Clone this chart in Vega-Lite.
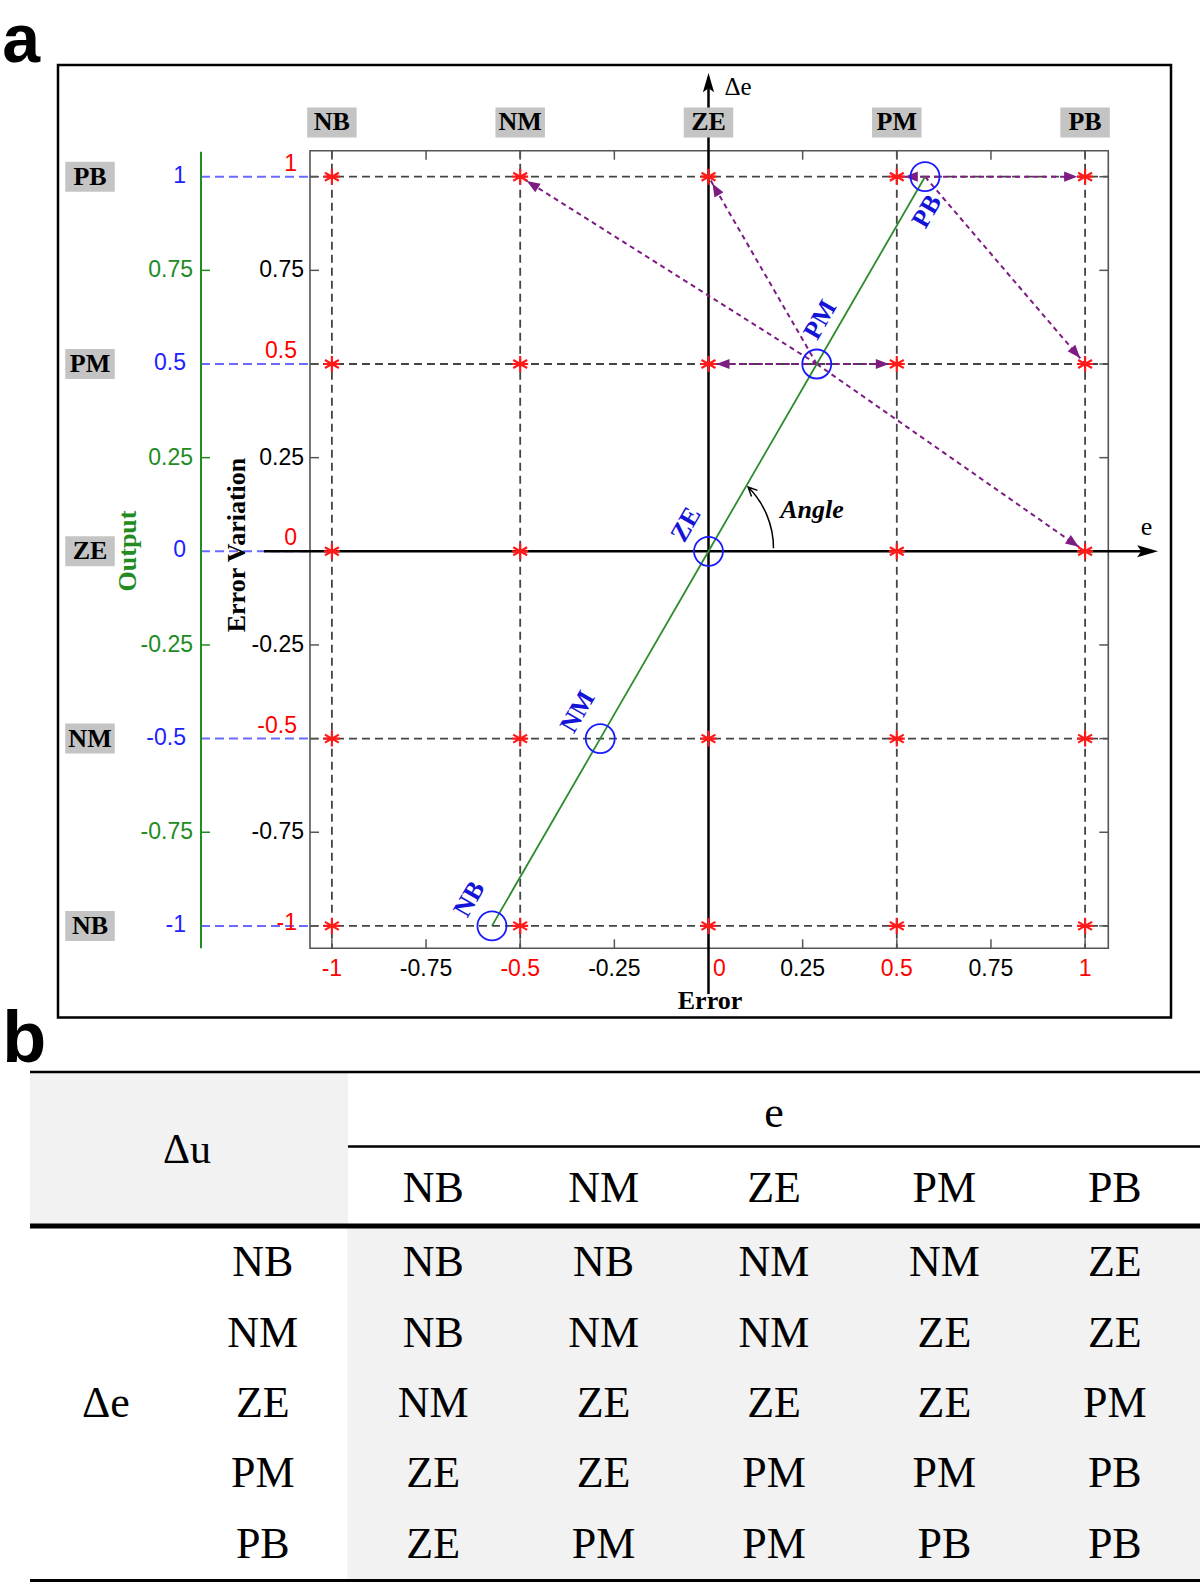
{
  "$schema": "https://vega.github.io/schema/vega-lite/v6.json",
  "width": 1200,
  "height": 1583,
  "padding": 0,
  "autosize": {"type": "none"},
  "background": "white",
  "config": {"view": {"stroke": null}, "text": {"font": "Liberation Serif"}, "point": {"opacity": 1}},
  "datasets": {
    "one": [{}],
    "levels": [{"name": "NB", "v": -1}, {"name": "NM", "v": -0.5}, {"name": "ZE", "v": 0}, {"name": "PM", "v": 0.5}, {"name": "PB", "v": 1}],
    "ticks": [{"v": -1}, {"v": -0.75}, {"v": -0.5}, {"v": -0.25}, {"v": 0}, {"v": 0.25}, {"v": 0.5}, {"v": 0.75}, {"v": 1}],
    "fuzzy": [
      {"name": "NB", "e": -0.575, "de": -1},
      {"name": "NM", "e": -0.2875, "de": -0.5},
      {"name": "ZE", "e": 0, "de": 0},
      {"name": "PM", "e": 0.2875, "de": 0.5},
      {"name": "PB", "e": 0.575, "de": 1}
    ],
    "arrows": [
      {"src": "PM", "e0": 0.2875, "de0": 0.5, "e1": -0.5, "de1": 1},
      {"src": "PM", "e0": 0.2875, "de0": 0.5, "e1": 0, "de1": 1},
      {"src": "PM", "e0": 0.2875, "de0": 0.5, "e1": 0, "de1": 0.5},
      {"src": "PM", "e0": 0.2875, "de0": 0.5, "e1": 0.5, "de1": 0.5},
      {"src": "PM", "e0": 0.2875, "de0": 0.5, "e1": 1, "de1": 0},
      {"src": "PB", "e0": 0.575, "de0": 1, "e1": 0.5, "de1": 1},
      {"src": "PB", "e0": 0.575, "de0": 1, "e1": 1, "de1": 1},
      {"src": "PB", "e0": 0.575, "de0": 1, "e1": 1, "de1": 0.5}
    ],
    "rules": [
      {"de": "NB", "e": "NB", "du": "NB", "ev": -1, "dev": -1},
      {"de": "NB", "e": "NM", "du": "NB", "ev": -0.5, "dev": -1},
      {"de": "NB", "e": "ZE", "du": "NM", "ev": 0, "dev": -1},
      {"de": "NB", "e": "PM", "du": "NM", "ev": 0.5, "dev": -1},
      {"de": "NB", "e": "PB", "du": "ZE", "ev": 1, "dev": -1},
      {"de": "NM", "e": "NB", "du": "NB", "ev": -1, "dev": -0.5},
      {"de": "NM", "e": "NM", "du": "NM", "ev": -0.5, "dev": -0.5},
      {"de": "NM", "e": "ZE", "du": "NM", "ev": 0, "dev": -0.5},
      {"de": "NM", "e": "PM", "du": "ZE", "ev": 0.5, "dev": -0.5},
      {"de": "NM", "e": "PB", "du": "ZE", "ev": 1, "dev": -0.5},
      {"de": "ZE", "e": "NB", "du": "NM", "ev": -1, "dev": 0},
      {"de": "ZE", "e": "NM", "du": "ZE", "ev": -0.5, "dev": 0},
      {"de": "ZE", "e": "ZE", "du": "ZE", "ev": 0, "dev": 0},
      {"de": "ZE", "e": "PM", "du": "ZE", "ev": 0.5, "dev": 0},
      {"de": "ZE", "e": "PB", "du": "PM", "ev": 1, "dev": 0},
      {"de": "PM", "e": "NB", "du": "ZE", "ev": -1, "dev": 0.5},
      {"de": "PM", "e": "NM", "du": "ZE", "ev": -0.5, "dev": 0.5},
      {"de": "PM", "e": "ZE", "du": "PM", "ev": 0, "dev": 0.5},
      {"de": "PM", "e": "PM", "du": "PM", "ev": 0.5, "dev": 0.5},
      {"de": "PM", "e": "PB", "du": "PB", "ev": 1, "dev": 0.5},
      {"de": "PB", "e": "NB", "du": "ZE", "ev": -1, "dev": 1},
      {"de": "PB", "e": "NM", "du": "PM", "ev": -0.5, "dev": 1},
      {"de": "PB", "e": "ZE", "du": "PM", "ev": 0, "dev": 1},
      {"de": "PB", "e": "PM", "du": "PB", "ev": 0.5, "dev": 1},
      {"de": "PB", "e": "PB", "du": "PB", "ev": 1, "dev": 1}
    ]
  },
  "resolve": {"scale": {"x": "independent", "y": "independent"}},
  "layer": [
    {
      "layer": [
        {"data": {"name": "rules"}, "mark": {"type": "rect", "color": "#f2f2f2", "stroke": "#f2f2f2", "strokeWidth": 1.2},
          "encoding": {
            "x": {"field": "e", "type": "nominal", "axis": null, "scale": {"type": "band", "domain": ["rowlabel", "NB", "NM", "ZE", "PM", "PB"], "range": [177.6, 1200], "paddingInner": 0, "paddingOuter": 0}},
            "y": {"field": "de", "type": "nominal", "axis": null, "scale": {"type": "band", "domain": ["e", "hdr", "NB", "NM", "ZE", "PM", "PB"], "range": [1087.2, 1580], "paddingInner": 0, "paddingOuter": 0}}
          }},
        {"data": {"name": "rules"}, "mark": {"type": "text", "fontSize": 44, "color": "black", "baseline": "middle"},
          "encoding": {
            "x": {"field": "e", "type": "nominal", "axis": null, "scale": {"type": "band", "domain": ["rowlabel", "NB", "NM", "ZE", "PM", "PB"], "range": [177.6, 1200], "paddingInner": 0, "paddingOuter": 0}},
            "y": {"field": "de", "type": "nominal", "axis": null, "scale": {"type": "band", "domain": ["e", "hdr", "NB", "NM", "ZE", "PM", "PB"], "range": [1087.2, 1580], "paddingInner": 0, "paddingOuter": 0}},
            "text": {"field": "du", "type": "nominal"}
          }},
        {"data": {"name": "levels"}, "mark": {"type": "text", "fontSize": 44, "color": "black", "baseline": "middle", "dy": -4},
          "encoding": {
            "x": {"field": "name", "type": "nominal", "axis": null, "scale": {"type": "band", "domain": ["rowlabel", "NB", "NM", "ZE", "PM", "PB"], "range": [177.6, 1200], "paddingInner": 0, "paddingOuter": 0}},
            "y": {"datum": "hdr", "type": "nominal", "axis": null, "scale": {"type": "band", "domain": ["e", "hdr", "NB", "NM", "ZE", "PM", "PB"], "range": [1087.2, 1580], "paddingInner": 0, "paddingOuter": 0}},
            "text": {"field": "name", "type": "nominal"}
          }},
        {"data": {"name": "levels"}, "mark": {"type": "text", "fontSize": 44, "color": "black", "baseline": "middle"},
          "encoding": {
            "x": {"datum": "rowlabel", "type": "nominal", "axis": null, "scale": {"type": "band", "domain": ["rowlabel", "NB", "NM", "ZE", "PM", "PB"], "range": [177.6, 1200], "paddingInner": 0, "paddingOuter": 0}},
            "y": {"field": "name", "type": "nominal", "axis": null, "scale": {"type": "band", "domain": ["e", "hdr", "NB", "NM", "ZE", "PM", "PB"], "range": [1087.2, 1580], "paddingInner": 0, "paddingOuter": 0}},
            "text": {"field": "name", "type": "nominal"}
          }},
        {"data": {"name": "one"}, "mark": {"type": "text", "fontSize": 44, "color": "black", "baseline": "middle", "dy": -8, "text": "e"},
          "encoding": {
            "x": {"datum": "ZE", "type": "nominal", "axis": null, "scale": {"type": "band", "domain": ["rowlabel", "NB", "NM", "ZE", "PM", "PB"], "range": [177.6, 1200], "paddingInner": 0, "paddingOuter": 0}},
            "y": {"datum": "e", "type": "nominal", "axis": null, "scale": {"type": "band", "domain": ["e", "hdr", "NB", "NM", "ZE", "PM", "PB"], "range": [1087.2, 1580], "paddingInner": 0, "paddingOuter": 0}}
          }},
        {"data": {"name": "one"}, "mark": {"type": "text", "fontSize": 44, "color": "black", "baseline": "middle", "dx": -157, "text": "Δe"},
          "encoding": {
            "x": {"datum": "rowlabel", "type": "nominal", "axis": null, "scale": {"type": "band", "domain": ["rowlabel", "NB", "NM", "ZE", "PM", "PB"], "range": [177.6, 1200], "paddingInner": 0, "paddingOuter": 0}},
            "y": {"datum": "ZE", "type": "nominal", "axis": null, "scale": {"type": "band", "domain": ["e", "hdr", "NB", "NM", "ZE", "PM", "PB"], "range": [1087.2, 1580], "paddingInner": 0, "paddingOuter": 0}}
          }}
      ]
    },
    {
      "layer": [
        {"data": {"name": "one"}, "mark": {"type": "rect", "color": "#f2f2f2"},
          "encoding": {
            "x": {"datum": -1.8016, "type": "quantitative", "axis": null, "scale": {"domain": [-1.8813, 1.3051], "nice": false, "zero": false}},
            "x2": {"datum": -0.9573},
            "y": {"datum": -1.3927, "type": "quantitative", "axis": null, "scale": {"domain": [-2.7541, 1.4717], "nice": false, "zero": false}},
            "y2": {"datum": -1.7958}
          }},
        {"data": {"name": "one"}, "mark": {"type": "rule", "color": "black", "strokeWidth": 2.5},
          "encoding": {
            "x": {"datum": -1.8016, "type": "quantitative", "axis": null, "scale": {"domain": [-1.8813, 1.3051], "nice": false, "zero": false}},
            "x2": {"datum": 1.3051},
            "y": {"datum": -1.39, "type": "quantitative", "axis": null, "scale": {"domain": [-2.7541, 1.4717], "nice": false, "zero": false}}
          }},
        {"data": {"name": "one"}, "mark": {"type": "rule", "color": "black", "strokeWidth": 2.5},
          "encoding": {
            "x": {"datum": -0.9573, "type": "quantitative", "axis": null, "scale": {"domain": [-1.8813, 1.3051], "nice": false, "zero": false}},
            "x2": {"datum": 1.3051},
            "y": {"datum": -1.5889, "type": "quantitative", "axis": null, "scale": {"domain": [-2.7541, 1.4717], "nice": false, "zero": false}}
          }},
        {"data": {"name": "one"}, "mark": {"type": "rule", "color": "black", "strokeWidth": 5},
          "encoding": {
            "x": {"datum": -1.8016, "type": "quantitative", "axis": null, "scale": {"domain": [-1.8813, 1.3051], "nice": false, "zero": false}},
            "x2": {"datum": 1.3051},
            "y": {"datum": -1.8011, "type": "quantitative", "axis": null, "scale": {"domain": [-2.7541, 1.4717], "nice": false, "zero": false}}
          }},
        {"data": {"name": "one"}, "mark": {"type": "rule", "color": "black", "strokeWidth": 3},
          "encoding": {
            "x": {"datum": -1.8016, "type": "quantitative", "axis": null, "scale": {"domain": [-1.8813, 1.3051], "nice": false, "zero": false}},
            "x2": {"datum": 1.3051},
            "y": {"datum": -2.7475, "type": "quantitative", "axis": null, "scale": {"domain": [-2.7541, 1.4717], "nice": false, "zero": false}}
          }},
        {"data": {"name": "one"}, "mark": {"type": "text", "fontSize": 42, "color": "black", "baseline": "middle", "text": "Δu"},
          "encoding": {
            "x": {"datum": -1.3848, "type": "quantitative", "axis": null, "scale": {"domain": [-1.8813, 1.3051], "nice": false, "zero": false}},
            "y": {"datum": -1.5983, "type": "quantitative", "axis": null, "scale": {"domain": [-2.7541, 1.4717], "nice": false, "zero": false}}
          }},
        {"data": {"name": "one"}, "mark": {"type": "text", "font": "Liberation Sans", "fontWeight": "bold", "fontSize": 68, "color": "black", "align": "left", "baseline": "alphabetic", "text": "a"},
          "encoding": {
            "x": {"datum": -1.875, "type": "quantitative", "axis": null, "scale": {"domain": [-1.8813, 1.3051], "nice": false, "zero": false}},
            "y": {"datum": 1.3062, "type": "quantitative", "axis": null, "scale": {"domain": [-2.7541, 1.4717], "nice": false, "zero": false}}
          }},
        {"data": {"name": "one"}, "mark": {"type": "text", "font": "Liberation Sans", "fontWeight": "bold", "fontSize": 72, "color": "black", "align": "left", "baseline": "alphabetic", "text": "b"},
          "encoding": {
            "x": {"datum": -1.875, "type": "quantitative", "axis": null, "scale": {"domain": [-1.8813, 1.3051], "nice": false, "zero": false}},
            "y": {"datum": -1.3633, "type": "quantitative", "axis": null, "scale": {"domain": [-2.7541, 1.4717], "nice": false, "zero": false}}
          }},
        {"data": {"name": "one"}, "mark": {"type": "rect", "filled": false, "color": "black", "strokeWidth": 2.5},
          "encoding": {
            "x": {"datum": -1.7273, "type": "quantitative", "axis": null, "scale": {"domain": [-1.8813, 1.3051], "nice": false, "zero": false}},
            "x2": {"datum": 1.2281},
            "y": {"datum": 1.2982, "type": "quantitative", "axis": null, "scale": {"domain": [-2.7541, 1.4717], "nice": false, "zero": false}},
            "y2": {"datum": -1.2445}
          }},
        {"data": {"name": "one"}, "mark": {"type": "rect", "filled": false, "color": "#555555", "strokeWidth": 1.6},
          "encoding": {
            "x": {"datum": -1.0582, "type": "quantitative", "axis": null, "scale": {"domain": [-1.8813, 1.3051], "nice": false, "zero": false}},
            "x2": {"datum": 1.0616},
            "y": {"datum": 1.0694, "type": "quantitative", "axis": null, "scale": {"domain": [-2.7541, 1.4717], "nice": false, "zero": false}},
            "y2": {"datum": -1.0598}
          }},
        {"data": {"name": "levels"}, "mark": {"type": "rule", "color": "#6a6aff", "strokeWidth": 2, "strokeDash": [9, 5]},
          "encoding": {
            "x": {"datum": -1.3476, "type": "quantitative", "axis": null, "scale": {"domain": [-1.8813, 1.3051], "nice": false, "zero": false}},
            "x2": {"datum": -1.0582},
            "y": {"field": "v", "type": "quantitative", "axis": null, "scale": {"domain": [-2.7541, 1.4717], "nice": false, "zero": false}}
          }},
        {"data": {"name": "levels"}, "transform": [{"filter": "datum.v !== 0"}], "mark": {"type": "rule", "color": "#444444", "strokeWidth": 1.8, "strokeDash": [8, 5]},
          "encoding": {
            "x": {"field": "v", "type": "quantitative", "axis": null, "scale": {"domain": [-1.8813, 1.3051], "nice": false, "zero": false}},
            "y": {"datum": 1.0694, "type": "quantitative", "axis": null, "scale": {"domain": [-2.7541, 1.4717], "nice": false, "zero": false}},
            "y2": {"datum": -1.0598}
          }},
        {"data": {"name": "levels"}, "transform": [{"filter": "datum.v !== 0"}], "mark": {"type": "rule", "color": "#444444", "strokeWidth": 1.8, "strokeDash": [8, 5]},
          "encoding": {
            "x": {"datum": -1.0582, "type": "quantitative", "axis": null, "scale": {"domain": [-1.8813, 1.3051], "nice": false, "zero": false}},
            "x2": {"datum": 1.0616},
            "y": {"field": "v", "type": "quantitative", "axis": null, "scale": {"domain": [-2.7541, 1.4717], "nice": false, "zero": false}}
          }},
        {"data": {"name": "ticks"}, "mark": {"type": "rule", "color": "#555555", "strokeWidth": 1.5},
          "encoding": {
            "x": {"field": "v", "type": "quantitative", "axis": null, "scale": {"domain": [-1.8813, 1.3051], "nice": false, "zero": false}},
            "y": {"datum": -1.0598, "type": "quantitative", "axis": null, "scale": {"domain": [-2.7541, 1.4717], "nice": false, "zero": false}},
            "y2": {"datum": -1.0358}
          }},
        {"data": {"name": "ticks"}, "mark": {"type": "rule", "color": "#555555", "strokeWidth": 1.5},
          "encoding": {
            "x": {"field": "v", "type": "quantitative", "axis": null, "scale": {"domain": [-1.8813, 1.3051], "nice": false, "zero": false}},
            "y": {"datum": 1.0694, "type": "quantitative", "axis": null, "scale": {"domain": [-2.7541, 1.4717], "nice": false, "zero": false}},
            "y2": {"datum": 1.0454}
          }},
        {"data": {"name": "ticks"}, "mark": {"type": "rule", "color": "#555555", "strokeWidth": 1.5},
          "encoding": {
            "x": {"datum": -1.0582, "type": "quantitative", "axis": null, "scale": {"domain": [-1.8813, 1.3051], "nice": false, "zero": false}},
            "x2": {"datum": -1.0343},
            "y": {"field": "v", "type": "quantitative", "axis": null, "scale": {"domain": [-2.7541, 1.4717], "nice": false, "zero": false}}
          }},
        {"data": {"name": "ticks"}, "mark": {"type": "rule", "color": "#555555", "strokeWidth": 1.5},
          "encoding": {
            "x": {"datum": 1.0616, "type": "quantitative", "axis": null, "scale": {"domain": [-1.8813, 1.3051], "nice": false, "zero": false}},
            "x2": {"datum": 1.0377},
            "y": {"field": "v", "type": "quantitative", "axis": null, "scale": {"domain": [-2.7541, 1.4717], "nice": false, "zero": false}}
          }},
        {"data": {"name": "one"}, "mark": {"type": "rule", "color": "#228b22", "strokeWidth": 2},
          "encoding": {
            "x": {"datum": -1.3476, "type": "quantitative", "axis": null, "scale": {"domain": [-1.8813, 1.3051], "nice": false, "zero": false}},
            "y": {"datum": 1.0667, "type": "quantitative", "axis": null, "scale": {"domain": [-2.7541, 1.4717], "nice": false, "zero": false}},
            "y2": {"datum": -1.0598}
          }},
        {"data": {"name": "ticks"}, "transform": [{"filter": "datum.v % 0.5 !== 0"}], "mark": {"type": "rule", "color": "#228b22", "strokeWidth": 1.5},
          "encoding": {
            "x": {"datum": -1.3476, "type": "quantitative", "axis": null, "scale": {"domain": [-1.8813, 1.3051], "nice": false, "zero": false}},
            "x2": {"datum": -1.3237},
            "y": {"field": "v", "type": "quantitative", "axis": null, "scale": {"domain": [-2.7541, 1.4717], "nice": false, "zero": false}}
          }},
        {"data": {"name": "one"}, "mark": {"type": "rule", "color": "black", "strokeWidth": 2.5},
          "encoding": {
            "x": {"datum": -1.1804, "type": "quantitative", "axis": null, "scale": {"domain": [-1.8813, 1.3051], "nice": false, "zero": false}},
            "x2": {"datum": 1.18},
            "y": {"datum": 0, "type": "quantitative", "axis": null, "scale": {"domain": [-2.7541, 1.4717], "nice": false, "zero": false}}
          }},
        {"data": {"name": "one"}, "mark": {"type": "rule", "color": "black", "strokeWidth": 2.5},
          "encoding": {
            "x": {"datum": 0, "type": "quantitative", "axis": null, "scale": {"domain": [-1.8813, 1.3051], "nice": false, "zero": false}},
            "y": {"datum": 1.265, "type": "quantitative", "axis": null, "scale": {"domain": [-2.7541, 1.4717], "nice": false, "zero": false}},
            "y2": {"datum": -1.1818}
          }},
        {"data": {"name": "one"}, "mark": {"type": "point", "shape": "M0,0L-0.7,2.4L0,1.9L0.7,2.4Z", "size": 256, "filled": true, "color": "black", "strokeWidth": 0},
          "encoding": {
            "x": {"datum": 0, "type": "quantitative", "axis": null, "scale": {"domain": [-1.8813, 1.3051], "nice": false, "zero": false}},
            "y": {"datum": 1.2768, "type": "quantitative", "axis": null, "scale": {"domain": [-2.7541, 1.4717], "nice": false, "zero": false}}
          }},
        {"data": {"name": "one"}, "mark": {"type": "point", "shape": "M0,0L-2.6,-0.75L-2.1,0L-2.6,0.75Z", "size": 256, "filled": true, "color": "black", "strokeWidth": 0},
          "encoding": {
            "x": {"datum": 1.1936, "type": "quantitative", "axis": null, "scale": {"domain": [-1.8813, 1.3051], "nice": false, "zero": false}},
            "y": {"datum": 0, "type": "quantitative", "axis": null, "scale": {"domain": [-2.7541, 1.4717], "nice": false, "zero": false}}
          }},
        {"data": {"name": "arrows"}, "mark": {"type": "rule", "color": "#7d1d82", "strokeWidth": 2, "strokeDash": [5, 4]},
          "encoding": {
            "x": {"field": "e0", "type": "quantitative", "axis": null, "scale": {"domain": [-1.8813, 1.3051], "nice": false, "zero": false}},
            "x2": {"field": "e1"},
            "y": {"field": "de0", "type": "quantitative", "axis": null, "scale": {"domain": [-2.7541, 1.4717], "nice": false, "zero": false}},
            "y2": {"field": "de1"}
          }},
        {"data": {"name": "arrows"}, "transform": [{"calculate": "atan2(datum.de0 - datum.de1, datum.e1 - datum.e0) * 180 / PI", "as": "ang"}],
          "mark": {"type": "point", "shape": "M-1.3,0L-3.5,-0.85L-3.5,0.85Z", "size": 144, "filled": true, "color": "#7d1d82", "strokeWidth": 0},
          "encoding": {
            "x": {"field": "e1", "type": "quantitative", "axis": null, "scale": {"domain": [-1.8813, 1.3051], "nice": false, "zero": false}},
            "y": {"field": "de1", "type": "quantitative", "axis": null, "scale": {"domain": [-2.7541, 1.4717], "nice": false, "zero": false}},
            "angle": {"field": "ang", "type": "quantitative", "scale": null}
          }},
        {"data": {"name": "fuzzy"}, "mark": {"type": "line", "color": "#2e8b2e", "strokeWidth": 1.8},
          "encoding": {
            "x": {"field": "e", "type": "quantitative", "axis": null, "scale": {"domain": [-1.8813, 1.3051], "nice": false, "zero": false}},
            "y": {"field": "de", "type": "quantitative", "axis": null, "scale": {"domain": [-2.7541, 1.4717], "nice": false, "zero": false}},
            "order": {"field": "de", "type": "quantitative"}
          }},
        {"data": {"name": "rules"}, "transform": [{"filter": "!(datum.ev === 0 && datum.dev === 0)"}],
          "mark": {"type": "point", "shape": "M0,-1L0,1M-0.87,-0.5L0.87,0.5M-0.87,0.5L0.87,-0.5M-1,0L1,0", "size": 256, "filled": false, "color": "#ff1a1a", "strokeWidth": 2.2},
          "encoding": {
            "x": {"field": "ev", "type": "quantitative", "axis": null, "scale": {"domain": [-1.8813, 1.3051], "nice": false, "zero": false}},
            "y": {"field": "dev", "type": "quantitative", "axis": null, "scale": {"domain": [-2.7541, 1.4717], "nice": false, "zero": false}}
          }},
        {"data": {"name": "fuzzy"}, "mark": {"type": "point", "shape": "circle", "size": 841, "filled": false, "color": "#1a1aff", "strokeWidth": 1.8},
          "encoding": {
            "x": {"field": "e", "type": "quantitative", "axis": null, "scale": {"domain": [-1.8813, 1.3051], "nice": false, "zero": false}},
            "y": {"field": "de", "type": "quantitative", "axis": null, "scale": {"domain": [-2.7541, 1.4717], "nice": false, "zero": false}}
          }},
        {"data": {"name": "fuzzy"}, "transform": [{"filter": "indexof(['NB','NM','ZE'], datum.name) >= 0"}],
          "mark": {"type": "text", "fontSize": 26, "fontWeight": "bold", "color": "#1414d8", "angle": 300, "dx": 12, "dy": -33, "baseline": "middle"},
          "encoding": {
            "x": {"field": "e", "type": "quantitative", "axis": null, "scale": {"domain": [-1.8813, 1.3051], "nice": false, "zero": false}},
            "y": {"field": "de", "type": "quantitative", "axis": null, "scale": {"domain": [-2.7541, 1.4717], "nice": false, "zero": false}},
            "text": {"field": "name", "type": "nominal"}
          }},
        {"data": {"name": "fuzzy"}, "transform": [{"filter": "datum.name === 'PM'"}],
          "mark": {"type": "text", "fontSize": 26, "fontWeight": "bold", "color": "#1414d8", "angle": 300, "dx": 40, "dy": -19, "baseline": "middle"},
          "encoding": {
            "x": {"field": "e", "type": "quantitative", "axis": null, "scale": {"domain": [-1.8813, 1.3051], "nice": false, "zero": false}},
            "y": {"field": "de", "type": "quantitative", "axis": null, "scale": {"domain": [-2.7541, 1.4717], "nice": false, "zero": false}},
            "text": {"field": "name", "type": "nominal"}
          }},
        {"data": {"name": "fuzzy"}, "transform": [{"filter": "datum.name === 'PB'"}],
          "mark": {"type": "text", "fontSize": 26, "fontWeight": "bold", "color": "#1414d8", "angle": 300, "dx": -29, "dy": 19, "baseline": "middle"},
          "encoding": {
            "x": {"field": "e", "type": "quantitative", "axis": null, "scale": {"domain": [-1.8813, 1.3051], "nice": false, "zero": false}},
            "y": {"field": "de", "type": "quantitative", "axis": null, "scale": {"domain": [-2.7541, 1.4717], "nice": false, "zero": false}},
            "text": {"field": "name", "type": "nominal"}
          }},
        {"data": {"name": "one"}, "mark": {"type": "point", "shape": "M6.5,-0.3A8.67,8.67 0 0 0 3.96,-6.43M4.3,-5.49L3.96,-6.43L4.9,-6.09", "size": 400, "filled": false, "color": "black", "strokeWidth": 1.5},
          "encoding": {
            "x": {"datum": 0, "type": "quantitative", "axis": null, "scale": {"domain": [-1.8813, 1.3051], "nice": false, "zero": false}},
            "y": {"datum": 0, "type": "quantitative", "axis": null, "scale": {"domain": [-2.7541, 1.4717], "nice": false, "zero": false}}
          }},
        {"data": {"name": "one"}, "mark": {"type": "text", "fontSize": 26, "fontWeight": "bold", "fontStyle": "italic", "color": "black", "baseline": "middle", "text": "Angle"},
          "encoding": {
            "x": {"datum": 0.2748, "type": "quantitative", "axis": null, "scale": {"domain": [-1.8813, 1.3051], "nice": false, "zero": false}},
            "y": {"datum": 0.1103, "type": "quantitative", "axis": null, "scale": {"domain": [-2.7541, 1.4717], "nice": false, "zero": false}}
          }},
        {"data": {"name": "levels"}, "mark": {"type": "point", "shape": "M-1.65,-1L1.65,-1L1.65,1L-1.65,1Z", "size": 900, "filled": true, "color": "#c4c4c4", "strokeWidth": 0},
          "encoding": {
            "x": {"field": "v", "type": "quantitative", "axis": null, "scale": {"domain": [-1.8813, 1.3051], "nice": false, "zero": false}},
            "y": {"datum": 1.1447, "type": "quantitative", "axis": null, "scale": {"domain": [-2.7541, 1.4717], "nice": false, "zero": false}}
          }},
        {"data": {"name": "levels"}, "mark": {"type": "text", "fontSize": 26, "fontWeight": "bold", "color": "black", "baseline": "middle"},
          "encoding": {
            "x": {"field": "v", "type": "quantitative", "axis": null, "scale": {"domain": [-1.8813, 1.3051], "nice": false, "zero": false}},
            "y": {"datum": 1.1447, "type": "quantitative", "axis": null, "scale": {"domain": [-2.7541, 1.4717], "nice": false, "zero": false}},
            "text": {"field": "name", "type": "nominal"}
          }},
        {"data": {"name": "levels"}, "mark": {"type": "point", "shape": "M-1.65,-1L1.65,-1L1.65,1L-1.65,1Z", "size": 900, "filled": true, "color": "#c4c4c4", "strokeWidth": 0},
          "encoding": {
            "x": {"datum": -1.6423, "type": "quantitative", "axis": null, "scale": {"domain": [-1.8813, 1.3051], "nice": false, "zero": false}},
            "y": {"field": "v", "type": "quantitative", "axis": null, "scale": {"domain": [-2.7541, 1.4717], "nice": false, "zero": false}}
          }},
        {"data": {"name": "levels"}, "mark": {"type": "text", "fontSize": 26, "fontWeight": "bold", "color": "black", "baseline": "middle"},
          "encoding": {
            "x": {"datum": -1.6423, "type": "quantitative", "axis": null, "scale": {"domain": [-1.8813, 1.3051], "nice": false, "zero": false}},
            "y": {"field": "v", "type": "quantitative", "axis": null, "scale": {"domain": [-2.7541, 1.4717], "nice": false, "zero": false}},
            "text": {"field": "name", "type": "nominal"}
          }},
        {"data": {"name": "ticks"}, "transform": [{"filter": "datum.v % 0.5 !== 0"}],
          "mark": {"type": "text", "font": "Liberation Sans", "fontSize": 23, "color": "black", "align": "right", "baseline": "middle"},
          "encoding": {
            "x": {"datum": -1.0741, "type": "quantitative", "axis": null, "scale": {"domain": [-1.8813, 1.3051], "nice": false, "zero": false}},
            "y": {"field": "v", "type": "quantitative", "axis": null, "scale": {"domain": [-2.7541, 1.4717], "nice": false, "zero": false}},
            "text": {"field": "v", "type": "nominal"}
          }},
        {"data": {"name": "ticks"}, "transform": [{"filter": "datum.v % 0.5 === 0 && datum.v !== -1"}],
          "mark": {"type": "text", "font": "Liberation Sans", "fontSize": 23, "color": "#ff0000", "align": "right", "baseline": "middle", "dy": -13},
          "encoding": {
            "x": {"datum": -1.0927, "type": "quantitative", "axis": null, "scale": {"domain": [-1.8813, 1.3051], "nice": false, "zero": false}},
            "y": {"field": "v", "type": "quantitative", "axis": null, "scale": {"domain": [-2.7541, 1.4717], "nice": false, "zero": false}},
            "text": {"field": "v", "type": "nominal"}
          }},
        {"data": {"name": "ticks"}, "transform": [{"filter": "datum.v === -1"}],
          "mark": {"type": "text", "font": "Liberation Sans", "fontSize": 23, "color": "#ff0000", "align": "right", "baseline": "middle", "dy": -3},
          "encoding": {
            "x": {"datum": -1.0927, "type": "quantitative", "axis": null, "scale": {"domain": [-1.8813, 1.3051], "nice": false, "zero": false}},
            "y": {"field": "v", "type": "quantitative", "axis": null, "scale": {"domain": [-2.7541, 1.4717], "nice": false, "zero": false}},
            "text": {"field": "v", "type": "nominal"}
          }},
        {"data": {"name": "ticks"}, "transform": [{"filter": "datum.v % 0.5 !== 0"}],
          "mark": {"type": "text", "font": "Liberation Sans", "fontSize": 23, "color": "#228b22", "align": "right", "baseline": "middle"},
          "encoding": {
            "x": {"datum": -1.3688, "type": "quantitative", "axis": null, "scale": {"domain": [-1.8813, 1.3051], "nice": false, "zero": false}},
            "y": {"field": "v", "type": "quantitative", "axis": null, "scale": {"domain": [-2.7541, 1.4717], "nice": false, "zero": false}},
            "text": {"field": "v", "type": "nominal"}
          }},
        {"data": {"name": "ticks"}, "transform": [{"filter": "datum.v % 0.5 === 0"}],
          "mark": {"type": "text", "font": "Liberation Sans", "fontSize": 23, "color": "#2222ff", "align": "right", "baseline": "middle", "dy": -1},
          "encoding": {
            "x": {"datum": -1.3874, "type": "quantitative", "axis": null, "scale": {"domain": [-1.8813, 1.3051], "nice": false, "zero": false}},
            "y": {"field": "v", "type": "quantitative", "axis": null, "scale": {"domain": [-2.7541, 1.4717], "nice": false, "zero": false}},
            "text": {"field": "v", "type": "nominal"}
          }},
        {"data": {"name": "ticks"}, "transform": [{"filter": "datum.v !== 0"}],
          "mark": {"type": "text", "font": "Liberation Sans", "fontSize": 23, "baseline": "middle"},
          "encoding": {
            "x": {"field": "v", "type": "quantitative", "axis": null, "scale": {"domain": [-1.8813, 1.3051], "nice": false, "zero": false}},
            "y": {"datum": -1.1151, "type": "quantitative", "axis": null, "scale": {"domain": [-2.7541, 1.4717], "nice": false, "zero": false}},
            "text": {"field": "v", "type": "nominal"},
            "color": {"condition": {"test": "datum.v % 0.5 === 0", "value": "#ff0000"}, "value": "black"}
          }},
        {"data": {"name": "ticks"}, "transform": [{"filter": "datum.v === 0"}],
          "mark": {"type": "text", "font": "Liberation Sans", "fontSize": 23, "baseline": "middle", "color": "#ff0000", "dx": 11},
          "encoding": {
            "x": {"field": "v", "type": "quantitative", "axis": null, "scale": {"domain": [-1.8813, 1.3051], "nice": false, "zero": false}},
            "y": {"datum": -1.1151, "type": "quantitative", "axis": null, "scale": {"domain": [-2.7541, 1.4717], "nice": false, "zero": false}},
            "text": {"field": "v", "type": "nominal"}
          }},
        {"data": {"name": "one"}, "mark": {"type": "text", "fontSize": 26, "fontWeight": "bold", "color": "black", "baseline": "middle", "text": "Error"},
          "encoding": {
            "x": {"datum": 0.004, "type": "quantitative", "axis": null, "scale": {"domain": [-1.8813, 1.3051], "nice": false, "zero": false}},
            "y": {"datum": -1.2005, "type": "quantitative", "axis": null, "scale": {"domain": [-2.7541, 1.4717], "nice": false, "zero": false}}
          }},
        {"data": {"name": "one"}, "mark": {"type": "text", "fontSize": 26, "fontWeight": "bold", "color": "black", "baseline": "middle", "angle": 270, "text": "Error Variation"},
          "encoding": {
            "x": {"datum": -1.252, "type": "quantitative", "axis": null, "scale": {"domain": [-1.8813, 1.3051], "nice": false, "zero": false}},
            "y": {"datum": 0.0168, "type": "quantitative", "axis": null, "scale": {"domain": [-2.7541, 1.4717], "nice": false, "zero": false}}
          }},
        {"data": {"name": "one"}, "mark": {"type": "text", "fontSize": 26, "fontWeight": "bold", "color": "#228b22", "baseline": "middle", "angle": 270, "text": "Output"},
          "encoding": {
            "x": {"datum": -1.5416, "type": "quantitative", "axis": null, "scale": {"domain": [-1.8813, 1.3051], "nice": false, "zero": false}},
            "y": {"datum": 0.0008, "type": "quantitative", "axis": null, "scale": {"domain": [-2.7541, 1.4717], "nice": false, "zero": false}}
          }},
        {"data": {"name": "one"}, "mark": {"type": "text", "fontSize": 25, "color": "black", "baseline": "middle", "text": "Δe"},
          "encoding": {
            "x": {"datum": 0.0783, "type": "quantitative", "axis": null, "scale": {"domain": [-1.8813, 1.3051], "nice": false, "zero": false}},
            "y": {"datum": 1.2395, "type": "quantitative", "axis": null, "scale": {"domain": [-2.7541, 1.4717], "nice": false, "zero": false}}
          }},
        {"data": {"name": "one"}, "mark": {"type": "text", "fontSize": 26, "color": "black", "baseline": "middle", "text": "e"},
          "encoding": {
            "x": {"datum": 1.163, "type": "quantitative", "axis": null, "scale": {"domain": [-1.8813, 1.3051], "nice": false, "zero": false}},
            "y": {"datum": 0.0649, "type": "quantitative", "axis": null, "scale": {"domain": [-2.7541, 1.4717], "nice": false, "zero": false}}
          }}
      ]
    }
  ]
}
